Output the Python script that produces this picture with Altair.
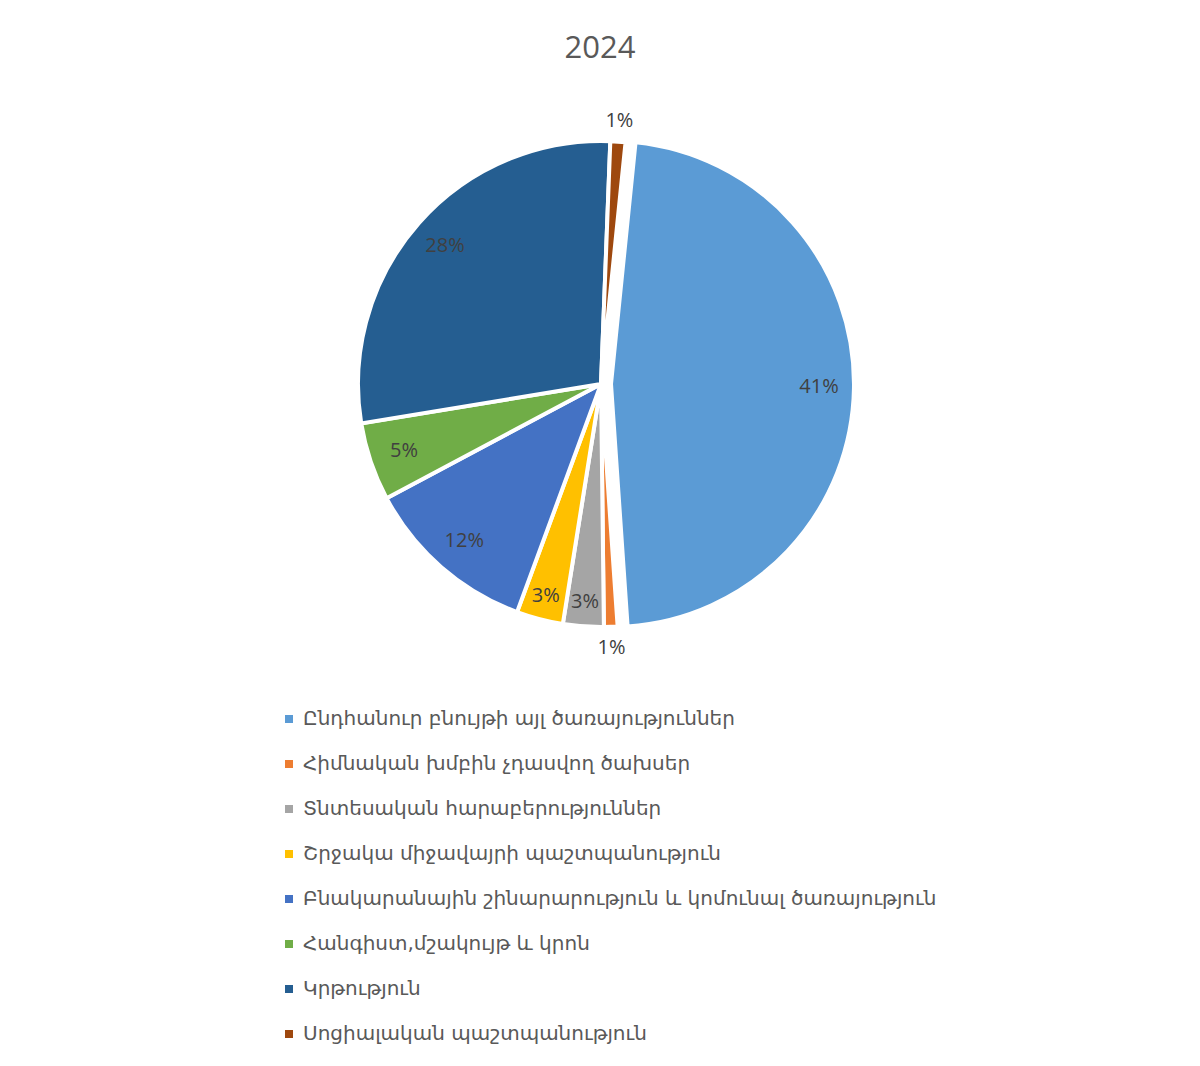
import math
import altair as alt
import pandas as pd

title_text = "2024"
categories = [
    "Ընդհանուր բնույթի այլ ծառայություններ",
    "Հիմնական խմբին չդասվող ծախսեր",
    "Տնտեսական հարաբերություններ",
    "Շրջակա միջավայրի պաշտպանություն",
    "Բնակարանային շինարարություն և կոմունալ ծառայություն",
    "Հանգիստ,մշակույթ և կրոն",
    "Կրթություն",
    "Սոցիալական պաշտպանություն",
]
shares = [47.3, 0.9, 2.7, 3.1, 11.6, 5.2, 28.2, 1.0]
label_texts = ["41%", "1%", "3%", "3%", "12%", "5%", "28%", "1%"]
colors = ["#5B9BD5", "#ED7D31", "#A5A5A5", "#FFC000",
          "#4472C4", "#70AD47", "#255E91", "#9E480E"]

df = pd.DataFrame({
    "order": list(range(len(categories))),
    "category": categories,
    "share": shares,
    "label": label_texts,
})

total = sum(shares)
start = math.radians(5.8)
theta_scale = alt.Scale(domain=[0, total], range=[start, start + 2 * math.pi])

CX, CY = 593, 296
R = 243

base = alt.Chart(df).transform_window(
    cum="sum(share)", sort=[alt.SortField("order")]
).transform_calculate(
    t0="datum.cum - datum.share",
    tm="datum.cum - datum.share / 2",
    lr="datum.share < 2 ? 264 : (datum.share < 4 ? 219 : 208)",
)

color_enc = alt.Color(
    "category:N",
    scale=alt.Scale(domain=categories, range=colors),
    sort=categories,
    legend=alt.Legend(
        title=None, orient="none", legendX=271, legendY=621,
        direction="vertical", symbolType="square", symbolSize=64,
        symbolStrokeWidth=0, labelFont="DejaVu Sans", labelFontSize=20,
        labelColor="#595959", labelLimit=900, rowPadding=25, labelOffset=4,
    ),
)

def arcs(cond, cx):
    return base.transform_filter(cond).mark_arc(
        radius=R, stroke="white", strokeWidth=4
    ).encode(
        theta=alt.Theta("t0:Q", scale=theta_scale),
        theta2="cum:Q",
        color=color_enc,
        x=alt.value(cx), y=alt.value(CY),
        order=alt.Order("order:Q"),
    )

def texts(cond, cx):
    return base.transform_filter(cond).mark_text(
        font="Open Sans", fontSize=20, color="#404040", baseline="middle"
    ).encode(
        theta=alt.Theta("tm:Q", scale=theta_scale),
        radius=alt.Radius("lr:Q", scale=None),
        text="label:N",
        x=alt.value(cx), y=alt.value(CY),
    )

chart = alt.layer(
    arcs("datum.order != 0", CX),
    arcs("datum.order == 0", CX + 10),
    texts("datum.order != 0", CX),
    texts("datum.order == 0", CX + 10),
).properties(
    width=1184, height=970,
    title=alt.Title(title_text, font="Open Sans", fontSize=31, fontWeight="normal",
                    color="#595959", anchor="middle", offset=23),
    autosize=alt.AutoSizeParams(type="none"),
    padding={"top": 80, "left": 0, "right": 0, "bottom": 0},
    background="white",
).configure_view(strokeWidth=0, stroke=None)

chart.save("out.html", embed_options={"renderer": "svg", "actions": False})
